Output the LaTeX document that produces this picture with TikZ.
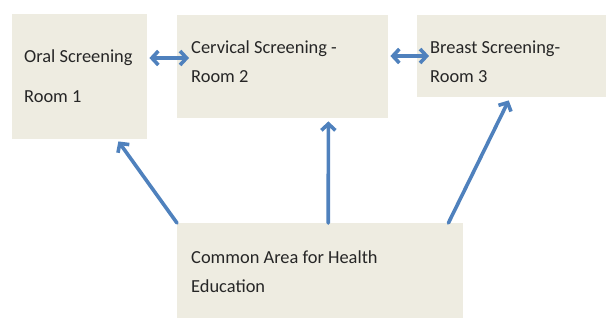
\documentclass[tikz,border=0pt]{standalone}
\usepackage{fontspec}
\setmainfont{Carlito}
\usetikzlibrary{arrows.meta,positioning,calc}
\definecolor{roomfill}{HTML}{EEECE1}
\definecolor{linkblue}{HTML}{4F81BD}

\begin{document}
\begin{tikzpicture}[x=1pt, y=-1pt,
        room/.style={fill=roomfill, inner sep=0pt, anchor=north west},
        roomtext/.style={anchor=base west, inner sep=0pt, align=left,
            font=\fontsize{18.4}{29}\selectfont, text=black!85},
        link/.style={draw=linkblue, line width=3.6pt, line cap=round,
            -{Straight Barb[length=6.5pt,width=14pt]}},
        twoway/.style={link, {Straight Barb[length=6.5pt,width=14pt]}-{Straight Barb[length=6.5pt,width=14pt]}}]
        \useasboundingbox (0,0) rectangle (608,322);

        % rooms
        \node[room, minimum width=135pt, minimum height=125pt] (oral) at (12,14) {};
        \node[room, minimum width=211pt, minimum height=103pt] (cervical) at (177,15) {};
        \node[room, minimum width=189pt, minimum height=82pt] (breast) at (417,15) {};
        \node[room, minimum width=286pt, minimum height=95pt] (common) at (177,223) {};

        \node[roomtext] (oraltext) at ($(oral.north west)+(12,88)$) {Oral Screening\\[11pt]Room 1};
        \node[roomtext] (cervicaltext) at ($(cervical.north west)+(14,67)$) {Cervical Screening -\\Room 2};
        \node[roomtext] (breasttext) at ($(breast.north west)+(13,67)$) {Breast Screening-\\Room 3};
        \node[roomtext] (commontext) at ($(common.north west)+(14,69)$) {Common Area for Health\\Education};

        % links between rooms
        \draw[twoway] ($(oral.north east)+(2,44)$) -- ($(cervical.north west)+(12,43)$);
        \draw[twoway] ($(cervical.north east)+(2,41)$) -- ($(breast.north west)+(12,41)$);

        \draw[link] (common.north west) -- ($(oral.south east)+(-29,2)$);
        \draw[link] ($(common.north)+(8,0)$) -- ($(cervical.south east)+(-60,3)$);
        \draw[link] ($(common.north east)+(-15,0)$) -- ($(breast.south)+(-3,3)$);
\end{tikzpicture}
\end{document}
